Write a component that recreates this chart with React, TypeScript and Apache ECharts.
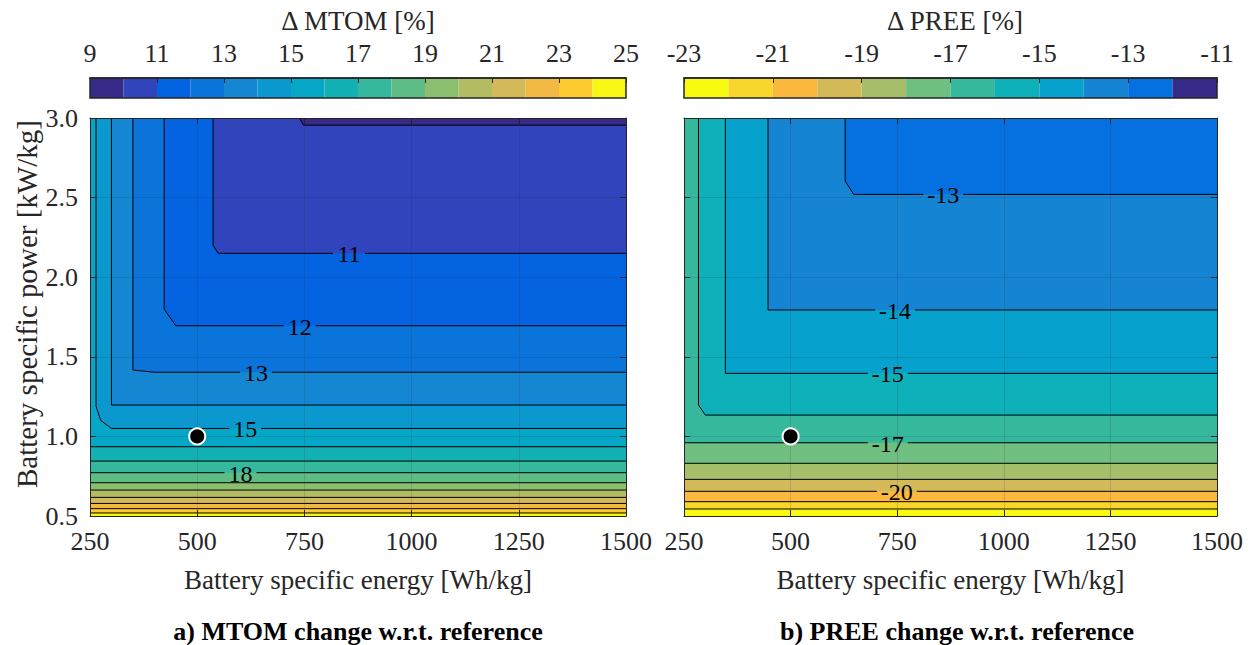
import React, { useEffect, useRef } from "react";
import * as echarts from "echarts";

// ---------- axes ----------
const ENERGY_MIN = 250;
const ENERGY_MAX = 1500;
const ENERGY_STEP = 250;
const POWER_MIN = 0.5;
const POWER_MAX = 3.0;
const POWER_STEP = 0.5;

const REFERENCE_POINT: number[] = [500, 1.0];

// ---------- Δ MTOM panel ----------
const MTOM_BAND_START = 9;
const MTOM_BAND_END = 25;
const MTOM_BAND_COLORS = [
  "#352a87", "#3244bb", "#0463e0", "#0b74da", "#1586d2", "#0a98ce", "#06a7c6", "#14b1b4",
  "#35b89d", "#5ebd85", "#8bbe6f", "#b2bc63", "#d4b95a", "#f2b844", "#fdca2f", "#f8f614",
];
const MTOM_LEVELS = [10, 11, 12, 13, 14, 15, 16, 17, 18, 19, 20, 21, 22, 23, 24];
const MTOM_CONTOURS: number[][][] = [
  [[738, 3.0], [748, 2.955], [1500, 2.955]],
  [[537, 3.0], [537, 2.2], [549, 2.15], [1500, 2.15]],
  [[423, 3.0], [423, 1.8], [450, 1.695], [1500, 1.695]],
  [[350, 3.0], [350, 1.417], [400, 1.403], [1500, 1.403]],
  [[300, 3.0], [300, 1.197], [1500, 1.197]],
  [[264, 3.0], [264, 1.19], [275, 1.1], [300, 1.05], [1500, 1.05]],
  [[250, 0.935], [1500, 0.935]],
  [[250, 0.845], [1500, 0.845]],
  [[250, 0.772], [1500, 0.772]],
  [[250, 0.709], [1500, 0.709]],
  [[250, 0.663], [1500, 0.663]],
  [[250, 0.617], [1500, 0.617]],
  [[250, 0.579], [1500, 0.579]],
  [[250, 0.546], [1500, 0.546]],
  [[250, 0.519], [1500, 0.519]],
];
const MTOM_LABEL_LEVELS = [11, 12, 13, 15, 18];
const MTOM_LABEL_ENERGY = [854, 739, 637, 612, 601];

// ---------- Δ PREE panel ----------
const PREE_BAND_START = -23;
const PREE_BAND_END = -11;
const PREE_BAND_COLORS = [
  "#f8fa10", "#f9d62b", "#fbb83f", "#d4b958", "#a6bd6a", "#6ebf80",
  "#35b89c", "#0eb0b9", "#06a1cd", "#1584d3", "#0570e0", "#352a87",
];
const PREE_LEVELS = [-22, -21, -20, -19, -18, -17, -16, -15, -14, -13];
const PREE_CONTOURS: number[][][] = [
  [[250, 0.544], [1500, 0.544]],
  [[250, 0.59], [1500, 0.59]],
  [[250, 0.655], [1500, 0.655]],
  [[250, 0.73], [1500, 0.73]],
  [[250, 0.831], [1500, 0.831]],
  [[250, 0.96], [1500, 0.96]],
  [[284, 3.0], [284, 1.197], [300, 1.134], [1500, 1.134]],
  [[347, 3.0], [347, 1.396], [1500, 1.396]],
  [[447, 3.0], [447, 1.794], [1500, 1.794]],
  [[628, 3.0], [628, 2.604], [648, 2.52], [1500, 2.52]],
];
const PREE_LABEL_LEVELS = [-20, -17, -15, -14, -13];
const PREE_LABEL_ENERGY = [749, 728, 728, 745, 858];

// ---------- text ----------
const X_NAME = "Battery specific energy [Wh/kg]";
const Y_NAME = "Battery specific power [kW/kg]";
const MTOM_CB_TITLE = "Δ MTOM [%]";
const PREE_CB_TITLE = "Δ PREE [%]";
const MTOM_CAPTION = "a) MTOM change w.r.t. reference";
const PREE_CAPTION = "b) PREE change w.r.t. reference";

const FONT = "Liberation Serif";
const INK = "#262626";
const TICK_FS = 26;
const NAME_FS = 27;
const YNAME_FS = 29;
const LABEL_FS = 24;

type Panel = {
  levels: number[];
  contours: number[][][];
  bandStart: number;
  colors: string[];
  increasing: boolean; // values increase toward the top-right
  labelLevels: number[];
  labelEnergy: number[];
};

function panelSeries(p: Panel, xi: number, yi: number) {
  const order = p.levels
    .map((l, i) => i)
    .sort((a, b) => (p.increasing ? p.levels[a] - p.levels[b] : p.levels[b] - p.levels[a]));
  const bg = p.increasing ? p.colors[0] : p.colors[p.colors.length - 1];
  const fillFor = (lvl: number) =>
    p.increasing ? p.colors[lvl - p.bandStart] : p.colors[lvl - 1 - p.bandStart];

  const fillData = [[ENERGY_MIN, POWER_MIN]].concat(order.map((i) => p.contours[i][0]));

  const fills = {
    type: "custom",
    xAxisIndex: xi,
    yAxisIndex: yi,
    z: 1,
    silent: true,
    data: fillData,
    renderItem: (params: any, api: any) => {
      const k = params.dataIndex;
      if (k === 0) {
        const a = api.coord([ENERGY_MIN, POWER_MAX]);
        const b = api.coord([ENERGY_MAX, POWER_MIN]);
        return {
          type: "rect",
          shape: { x: a[0], y: a[1], width: b[0] - a[0], height: b[1] - a[1] },
          style: { fill: bg },
        };
      }
      const idx = order[k - 1];
      const c = p.contours[idx];
      const pts = c.map((q) => api.coord(q));
      pts.push(api.coord([ENERGY_MAX, POWER_MAX]));
      if (c[0][1] < POWER_MAX) pts.push(api.coord([ENERGY_MIN, POWER_MAX]));
      return { type: "polygon", shape: { points: pts }, style: { fill: fillFor(p.levels[idx]) } };
    },
  };

  const lines = {
    type: "custom",
    xAxisIndex: xi,
    yAxisIndex: yi,
    z: 3,
    silent: true,
    data: p.contours.map((c) => c[0]),
    renderItem: (params: any, api: any) => {
      const idx = params.dataIndex;
      const c = p.contours[idx];
      const lvl = p.levels[idx];
      const pts = c.map((q) => api.coord(q));
      const ls = { stroke: "#000", lineWidth: 1, fill: null };
      const li = p.labelLevels.indexOf(lvl);
      if (li < 0) {
        return { type: "polyline", shape: { points: pts }, style: ls };
      }
      const last = pts[pts.length - 1];
      const y = last[1];
      const lx = api.coord([p.labelEnergy[li], c[c.length - 1][1]])[0];
      const text = String(lvl);
      const w = text.replace("-", "").length * 0.5 * LABEL_FS + (text.includes("-") ? 0.33 * LABEL_FS : 0);
      const half = w / 2 + 4;
      const a = pts.slice(0, -1).concat([[lx - half, y]]);
      const b = [[lx + half, y], last];
      return {
        type: "group",
        children: [
          { type: "polyline", shape: { points: a }, style: ls },
          { type: "polyline", shape: { points: b }, style: ls },
          {
            type: "text",
            x: lx,
            y: y + 1,
            style: {
              text,
              fill: "#000",
              fontSize: LABEL_FS,
              fontFamily: FONT,
              align: "center",
              verticalAlign: "middle",
            },
          },
        ],
      };
    },
  };

  const point = {
    type: "scatter",
    xAxisIndex: xi,
    yAxisIndex: yi,
    z: 20,
    silent: true,
    symbolSize: 16,
    itemStyle: { color: "#000", borderColor: "#fff", borderWidth: 2, opacity: 1 },
    data: [REFERENCE_POINT],
  };
  return [fills, lines, point];
}

function colorbarSeries(colors: string[], xi: number, yi: number) {
  return {
    type: "custom",
    xAxisIndex: xi,
    yAxisIndex: yi,
    z: 1,
    silent: true,
    data: colors.map((c, i) => [i + 0.5, 0.5]),
    renderItem: (params: any, api: any) => {
      const i = params.dataIndex;
      const a = api.coord([i, 1]);
      const b = api.coord([i + 1, 0]);
      const children: any[] = [
        {
          type: "rect",
          shape: { x: a[0], y: a[1], width: b[0] - a[0], height: b[1] - a[1] },
          style: { fill: colors[i] },
        },
      ];
      if (i === colors.length - 1) {
        const s = api.coord([0, 1]);
        const e = api.coord([colors.length, 0]);
        children.push({
          type: "rect",
          z2: 10,
          shape: { x: s[0], y: s[1], width: e[0] - s[0], height: e[1] - s[1] },
          style: { fill: null, stroke: INK, lineWidth: 1.5 },
        });
      }
      return { type: "group", children };
    },
  };
}

const baseLabel = { fontSize: TICK_FS, color: INK, fontFamily: FONT };

function xAxes(gi: number) {
  return [
    {
      gridIndex: gi,
      type: "value",
      min: ENERGY_MIN,
      max: ENERGY_MAX,
      interval: ENERGY_STEP,
      position: "bottom",
      z: 10,
      axisLine: { show: true, onZero: false, lineStyle: { color: INK, width: 1 } },
      axisTick: { show: true, inside: true, length: 6, lineStyle: { color: INK } },
      axisLabel: { ...baseLabel, margin: 12, formatter: (v: number) => String(v), showMinLabel: true, showMaxLabel: true },
      splitLine: { show: true, lineStyle: { color: "rgba(38,38,38,0.15)", width: 1 } },
      name: X_NAME,
      nameLocation: "middle",
      nameGap: 50,
      nameTextStyle: { fontSize: NAME_FS, color: INK, fontFamily: FONT },
    },
    {
      gridIndex: gi,
      type: "value",
      min: ENERGY_MIN,
      max: ENERGY_MAX,
      interval: ENERGY_STEP,
      position: "top",
      z: 10,
      axisLine: { show: true, onZero: false, lineStyle: { color: INK, width: 1 } },
      axisTick: { show: true, inside: true, length: 6, lineStyle: { color: INK } },
      axisLabel: { show: false },
      splitLine: { show: false },
    },
  ];
}

function yAxes(gi: number, withLabels: boolean) {
  return [
    {
      gridIndex: gi,
      type: "value",
      min: POWER_MIN,
      max: POWER_MAX,
      interval: POWER_STEP,
      position: "left",
      z: 10,
      axisLine: { show: true, onZero: false, lineStyle: { color: INK, width: 1 } },
      axisTick: { show: true, inside: true, length: 6, lineStyle: { color: INK } },
      axisLabel: withLabels
        ? { ...baseLabel, margin: 12, formatter: (v: number) => v.toFixed(1), showMinLabel: true, showMaxLabel: true }
        : { show: false },
      splitLine: { show: true, lineStyle: { color: "rgba(38,38,38,0.15)", width: 1 } },
    },
    {
      gridIndex: gi,
      type: "value",
      min: POWER_MIN,
      max: POWER_MAX,
      interval: POWER_STEP,
      position: "right",
      z: 10,
      axisLine: { show: true, onZero: false, lineStyle: { color: INK, width: 1 } },
      axisTick: { show: true, inside: true, length: 6, lineStyle: { color: INK } },
      axisLabel: { show: false },
      splitLine: { show: false },
    },
  ];
}

function cbXAxis(gi: number, start: number, end: number) {
  return {
    gridIndex: gi,
    type: "value",
    min: 0,
    max: end - start,
    interval: 2,
    position: "top",
    z: 10,
    axisLine: { show: true, onZero: false, lineStyle: { color: INK, width: 1.5 } },
    axisTick: { show: true, inside: true, length: 5, lineStyle: { color: INK } },
    axisLabel: { ...baseLabel, margin: 12, formatter: (v: number) => String(v + start), showMinLabel: true, showMaxLabel: true },
    splitLine: { show: false },
  };
}

function cbYAxis(gi: number) {
  return { gridIndex: gi, type: "value", min: 0, max: 1, show: false };
}

export default function App() {
  const ref = useRef<HTMLDivElement>(null);
  useEffect(() => {
    document.body.style.margin = "0";
    if (!ref.current) return;
    const chart = echarts.init(ref.current, undefined, { renderer: "svg" });
    const mtom: Panel = {
      levels: MTOM_LEVELS,
      contours: MTOM_CONTOURS,
      bandStart: MTOM_BAND_START,
      colors: MTOM_BAND_COLORS,
      increasing: false,
      labelLevels: MTOM_LABEL_LEVELS,
      labelEnergy: MTOM_LABEL_ENERGY,
    };
    const pree: Panel = {
      levels: PREE_LEVELS,
      contours: PREE_CONTOURS,
      bandStart: PREE_BAND_START,
      colors: PREE_BAND_COLORS,
      increasing: true,
      labelLevels: PREE_LABEL_LEVELS,
      labelEnergy: PREE_LABEL_ENERGY,
    };
    const option: any = {
      animation: false,
      backgroundColor: "#ffffff",
      textStyle: { fontFamily: FONT },
      grid: [
        { left: 90, top: 118, width: 536, height: 398 },
        { left: 684, top: 118, width: 533, height: 398 },
        { left: 90, top: 78, width: 536, height: 20 },
        { left: 684, top: 78, width: 533, height: 20 },
      ],
      xAxis: [
        ...xAxes(0),
        ...xAxes(1),
        cbXAxis(2, MTOM_BAND_START, MTOM_BAND_END),
        cbXAxis(3, PREE_BAND_START, PREE_BAND_END),
      ],
      yAxis: [...yAxes(0, true), ...yAxes(1, false), cbYAxis(2), cbYAxis(3)],
      series: [
        ...panelSeries(mtom, 0, 0),
        ...panelSeries(pree, 2, 2),
        colorbarSeries(MTOM_BAND_COLORS, 4, 4),
        colorbarSeries(PREE_BAND_COLORS, 5, 5),
      ],
      graphic: [
        {
          type: "text",
          x: 27,
          y: 304,
          rotation: Math.PI / 2,
          style: { text: Y_NAME, fill: INK, fontSize: YNAME_FS, fontFamily: FONT, align: "center", verticalAlign: "middle" },
        },
        {
          type: "text",
          x: 358,
          y: 21,
          style: { text: MTOM_CB_TITLE, fill: INK, fontSize: NAME_FS, fontFamily: FONT, align: "center", verticalAlign: "middle" },
        },
        {
          type: "text",
          x: 955,
          y: 21,
          style: { text: PREE_CB_TITLE, fill: INK, fontSize: NAME_FS, fontFamily: FONT, align: "center", verticalAlign: "middle" },
        },
        {
          type: "text",
          x: 358,
          y: 631,
          style: { text: MTOM_CAPTION, fill: "#000", fontSize: 26, fontWeight: "bold", fontFamily: FONT, align: "center", verticalAlign: "middle" },
        },
        {
          type: "text",
          x: 957,
          y: 631,
          style: { text: PREE_CAPTION, fill: "#000", fontSize: 26, fontWeight: "bold", fontFamily: FONT, align: "center", verticalAlign: "middle" },
        },
      ],
    };
    chart.setOption(option);
    return () => chart.dispose();
  }, []);
  return <div ref={ref} style={{ width: 1250, height: 645 }} />;
}
